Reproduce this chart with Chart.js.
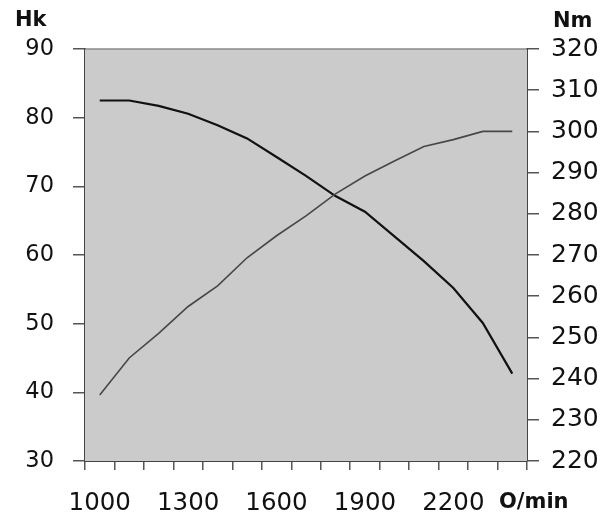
<!DOCTYPE html>
<html>
<head>
<meta charset="utf-8">
<title>Hk / Nm</title>
<script src="https://cdn.jsdelivr.net/npm/chart.js@4"></script>
<style>
  html, body { margin: 0; padding: 0; background: #fff; }
  canvas { display: block; }
</style>
</head>
<body>
<canvas id="engineChart" width="615" height="523"></canvas>
<script>
// engine speed categories (O/min)
const rpm = ['1000', '1100', '1200', '1300', '1400', '1500', '1600', '1700',
             '1800', '1900', '2000', '2100', '2200', '2300', '2400'];
// power in Hk (left axis)
const power = [39.6, 45.0, 48.6, 52.5, 55.5, 59.6, 62.8, 65.7, 68.9, 71.5, 73.7, 75.8, 76.8, 78.0, 78.0];
// torque in Nm (right axis)
const torque = [307.5, 307.5, 306.2, 304.3, 301.5, 298.3, 293.8, 289.2, 284.3, 280.5, 274.5, 268.5, 262.0, 253.5, 241.2];

// the original uses wide lettering, DejaVu is closest
const FONT = 'DejaVu Sans, sans-serif';

// grey plot area + unit titles
const decor = {
    id: 'decor',
    beforeDatasetsDraw(chart) {
        const { ctx, chartArea: a } = chart;
        ctx.save();
        ctx.fillStyle = '#cbcbcb';
        ctx.fillRect(a.left, a.top, a.right - a.left, a.bottom - a.top);
        ctx.strokeStyle = '#8a8a8a';
        ctx.lineWidth = 1.5;
        ctx.beginPath();
        ctx.moveTo(a.left, a.top);
        ctx.lineTo(a.right, a.top);
        ctx.stroke();
        ctx.restore();
    },
    afterDraw(chart) {
        const ctx = chart.ctx;
        ctx.save();
        ctx.fillStyle = '#111';
        ctx.font = 'bold 21px ' + FONT;
        ctx.textBaseline = 'middle';
        ctx.textAlign = 'left';
        ctx.fillText('Hk', 15, 21);
        ctx.fillText('Nm', 553, 22);
        ctx.fillText('O/min', 499, 503);
        ctx.restore();
    }
};

const axisGrid = {
    drawOnChartArea: false,
    drawTicks: true,
    color: '#555',
    lineWidth: 1.5
};

new Chart(document.getElementById('engineChart'), {
    type: 'line',
    data: {
        labels: rpm,
        datasets: [{
            label: 'Hk',
            data: power,
            yAxisID: 'y',
            borderColor: '#474747',
            borderWidth: 1.6,
            pointRadius: 0,
            tension: 0,
            fill: false
        }, {
            label: 'Nm',
            data: torque,
            yAxisID: 'y2',
            borderColor: '#111',
            borderWidth: 2.2,
            pointRadius: 0,
            tension: 0,
            fill: false
        }]
    },
    options: {
        responsive: false,
        animation: false,
        layout: { padding: { top: 49, left: 0, right: 0, bottom: 0 } },
        plugins: {
            legend: { display: false },
            tooltip: { enabled: false }
        },
        scales: {
            x: {
                type: 'category',
                offset: true,
                grid: Object.assign({}, axisGrid, { offset: true, tickLength: 9 }),
                border: { display: true, color: '#444', width: 2 },
                ticks: {
                    autoSkip: false,
                    maxRotation: 0,
                    padding: 19,
                    color: '#111',
                    font: { family: FONT, size: 24.5 },
                    callback: function(value, index) {
                        return (index % 3 === 0 && index <= 12) ? rpm[index] : '';
                    }
                },
                afterFit: function(scale) { scale.height = 62; }
            },
            y: {
                position: 'left',
                min: 30,
                max: 90,
                grid: Object.assign({}, axisGrid, { tickLength: 12 }),
                border: { display: true, color: '#444', width: 2 },
                ticks: {
                    stepSize: 10,
                    padding: 19,
                    color: '#111',
                    font: { family: FONT, size: 22.5 }
                },
                afterFit: function(scale) { scale.width = 85; }
            },
            y2: {
                position: 'right',
                min: 220,
                max: 320,
                grid: Object.assign({}, axisGrid, { tickLength: 12 }),
                border: { display: true, color: '#444', width: 2 },
                ticks: {
                    stepSize: 10,
                    padding: 12,
                    color: '#111',
                    font: { family: FONT, size: 25 }
                },
                afterFit: function(scale) { scale.width = 88; }
            }
        }
    },
    plugins: [decor]
});
</script>
</body>
</html>
